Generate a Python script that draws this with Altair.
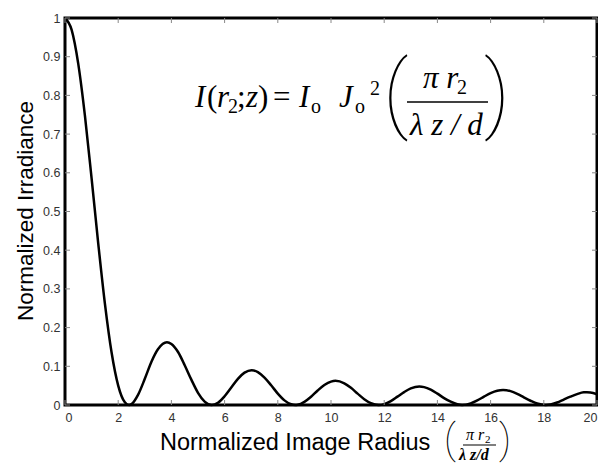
import altair as alt
import pandas as pd

# Normalized image radius (x) and normalized irradiance (y)
radius = [0, 0.25, 0.5, 0.75, 1.0, 1.25, 1.5, 1.75, 2.0, 2.25, 2.405, 2.5, 2.75, 3.0, 3.25,
          3.5, 3.832, 4.0, 4.25, 4.5, 4.75, 5.0, 5.25, 5.52, 5.75, 6.0, 6.25, 6.5, 6.75, 7.016,
          7.25, 7.5, 7.75, 8.0, 8.25, 8.5, 8.654, 8.75, 9.0, 9.25, 9.5, 9.75, 10.0, 10.17, 10.5,
          10.75, 11.0, 11.25, 11.5, 11.79, 12.0, 12.25, 12.5, 12.75, 13.0, 13.32, 13.5, 13.75, 14.0,
          14.25, 14.5, 14.75, 14.93, 15.25, 15.5, 15.75, 16.0, 16.25, 16.47, 16.75, 17.0, 17.25,
          17.5, 17.75, 18.07, 18.25, 18.5, 18.75, 19.0, 19.25, 19.5, 19.62, 19.75, 20.0]
irradiance = [1.0, 0.9691, 0.8807, 0.7469, 0.5855, 0.4173, 0.2620, 0.1362, 0.0501, 0.0069,
              0.0, 0.0023, 0.0269, 0.0676, 0.1118, 0.1445, 0.1622, 0.1577, 0.1369, 0.1028,
              0.0655, 0.0315, 0.0088, 0.0, 0.0057, 0.0227, 0.0452, 0.0677, 0.0837, 0.0901,
              0.0851, 0.0709, 0.0510, 0.0295, 0.0120, 0.0018, 0.0, 0.0006, 0.0082, 0.0213,
              0.0376, 0.0516, 0.0605, 0.0624, 0.0560, 0.0443, 0.0293, 0.0150, 0.0046, 0.0,
              0.0023, 0.0101, 0.0216, 0.0334, 0.0428, 0.0477, 0.0462, 0.0397, 0.0293, 0.0179,
              0.0085, 0.0019, 0.0, 0.0041, 0.0118, 0.0215, 0.0306, 0.0368, 0.0386, 0.0358,
              0.0289, 0.0197, 0.0110, 0.0037, 0.0, 0.0011, 0.0064, 0.0140, 0.0215, 0.0281,
              0.0328, 0.0330, 0.0322, 0.0279]
x_ticks = [0, 2, 4, 6, 8, 10, 12, 14, 16, 18, 20]
y_ticks = [0, 0.1, 0.2, 0.3, 0.4, 0.5, 0.6, 0.7, 0.8, 0.9, 1.0]
x_title = "Normalized Image Radius"
y_title = "Normalized Irradiance"

W, H = 532, 387
OX, OY = 65, 18  # page position of the plot origin

df = pd.DataFrame({"r": radius, "I": irradiance})
one = pd.DataFrame({"k": [0]})

xs = alt.Scale(domain=[0, 20], nice=False, zero=False)
ys = alt.Scale(domain=[0, 1], nice=False)
x_axis = alt.Axis(values=x_ticks, format="d", title=None, domain=False, ticks=False, grid=False,
                  labelFontSize=12.5, labelColor="#333", labelPadding=6, labelFont="Liberation Sans")
y_axis = alt.Axis(values=y_ticks, format="~g", title=None, domain=False, ticks=False, grid=False,
                  labelFontSize=12.5, labelColor="#333", labelPadding=5, labelFont="Liberation Sans")

curve = alt.Chart(df).mark_line(color="black", strokeWidth=2.5, interpolate="monotone").encode(
    x=alt.X("r:Q", scale=xs, axis=x_axis),
    y=alt.Y("I:Q", scale=ys, axis=y_axis),
)

xt = pd.DataFrame({"t": x_ticks})
yt = pd.DataFrame({"t": y_ticks})
tick_style = dict(color="#888", strokeWidth=1)
xb = alt.Chart(xt).mark_rule(**tick_style).encode(
    x=alt.X("t:Q", scale=xs, axis=x_axis), y=alt.value(H), y2=alt.value(H - 5))
xtp = alt.Chart(xt).mark_rule(**tick_style).encode(
    x=alt.X("t:Q", scale=xs, axis=x_axis), y=alt.value(0), y2=alt.value(5))
yl = alt.Chart(yt).mark_rule(**tick_style).encode(
    y=alt.Y("t:Q", scale=ys, axis=y_axis), x=alt.value(0), x2=alt.value(5))
yr = alt.Chart(yt).mark_rule(**tick_style).encode(
    y=alt.Y("t:Q", scale=ys, axis=y_axis), x=alt.value(W), x2=alt.value(W - 5))


def txt(s, x, y, size, font="Liberation Serif", style="italic", weight="normal",
        align="left", angle=0):
    return alt.Chart(one).mark_text(
        text=s, font=font, fontSize=size, fontStyle=style, fontWeight=weight,
        align=align, baseline="alphabetic", angle=angle, color="black"
    ).encode(x=alt.value(x - OX), y=alt.value(y - OY))


def bar(x1, x2, y, w=1.5):
    return alt.Chart(one).mark_rule(color="black", strokeWidth=w).encode(
        x=alt.value(x1 - OX), x2=alt.value(x2 - OX), y=alt.value(y - OY))


PAREN = "Roboto"
B = 107
formula = [
    txt("I", 195, B, 31),
    txt("(", 207, B, 31, style="normal"),
    txt("r", 217, B, 31),
    txt("2", 228, B + 6, 20, style="normal"),
    txt(";", 237, B, 31, style="normal"),
    txt("z", 246, B, 31),
    txt(")", 258, B, 31, style="normal"),
    txt("=", 273, B, 31, style="normal"),
    txt("I", 299, B, 31),
    txt("o", 311, B + 6, 20, style="normal"),
    txt("J", 339, B, 31),
    txt("o", 355, B + 6, 20, style="normal"),
    txt("2", 370, B - 12, 20, style="normal"),
    txt("(", 383, 122, 86, font=PAREN, style="normal", weight=100),
    txt("\u03c0 r", 423, 88, 31),
    txt("2", 457, 94, 20, style="normal"),
    bar(407, 488, 102),
    txt("\u03bb z / d", 410, 135, 31),
    txt(")", 484, 122, 86, font=PAREN, style="normal", weight=100),
]

titles = [
    txt(x_title, 160, 450, 23.5, font="Liberation Sans", style="normal"),
    txt(y_title, 33, 211, 22.5, font="Liberation Sans", style="normal", align="center", angle=270),
    txt("(", 444, 453, 40, font=PAREN, style="normal", weight=100),
    txt("\u03c0 r", 466, 440, 16),
    txt("2", 485, 443, 11, style="normal"),
    bar(463, 496, 445, 1.2),
    txt("\u03bb z/d", 459, 460, 16, weight="bold"),
    txt(")", 499, 453, 40, font=PAREN, style="normal", weight=100),
]

chart = alt.layer(curve, xb, xtp, yl, yr, *formula, *titles).properties(
    width=W, height=H,
    background="white",
    autosize=alt.AutoSizeParams(type="none"),
    padding={"left": 57, "top": 10, "right": 1, "bottom": 58},
).configure_view(stroke="black", strokeWidth=3)

chart.save("out.html", embed_options={"renderer": "svg", "actions": False})
